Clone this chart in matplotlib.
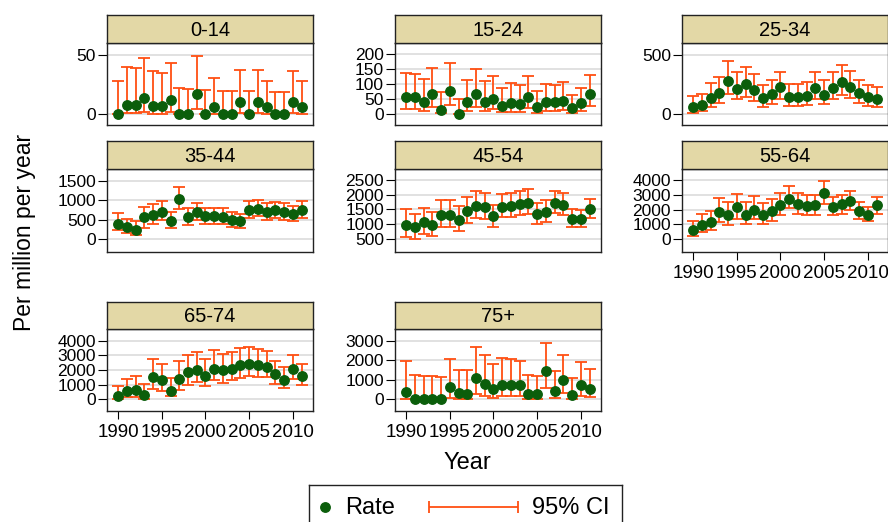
import numpy as np
import matplotlib
matplotlib.use("Agg")
import matplotlib.pyplot as plt

plt.rcParams['font.family'] = ['Liberation Sans', 'DejaVu Sans']

# datos por grupo de edad: tasa, limite inferior y superior del IC 95%
years = list(range(1990, 2012))
groups = ["0-14", "15-24", "25-34", "35-44", "45-54", "55-64", "65-74", "75+"]

rate_0_14 = [0, 7.6, 7.6, 13.3, 6.8, 6.8, 11.9, 0, 0, 16.7, 0, 5.6, 0, 0, 10.5, 0, 10.5, 5.6, 0, 0, 10.5, 5.6]
lo_0_14 = [0, 0.5, 0.5, 2, 0.4, 0.4, 1.5, 0, 0, 4, 0, 0.2, 0, 0, 1, 0, 1, 0.2, 0, 0, 1, 0.2]
hi_0_14 = [28, 40, 38.7, 47.7, 36, 34.5, 43.5, 21.7, 21, 49.2, 20.3, 30, 19.8, 19.5, 37.3, 19.5, 37, 28, 19, 19, 36.5, 28]

rate_15_24 = [55.6, 55.6, 41, 65.6, 13, 78, 0, 41, 65.6, 39, 50, 26.7, 38, 34, 55.6, 22, 40, 39, 44, 20, 35.6, 66.7]
lo_15_24 = [17, 17, 11, 22, 2, 30, 0, 11, 22, 10, 15, 5.6, 8, 8, 19, 3, 11, 10, 13, 2, 11, 28]
hi_15_24 = [138, 135, 117, 154, 74, 171, 49, 115, 150, 111, 127, 88, 102, 98, 126, 78, 101, 97, 107, 63, 88, 130]

rate_25_34 = [56, 73, 138, 181, 282, 212, 257, 206, 133, 169, 226, 141, 141, 153, 223, 164, 223, 274, 226, 175, 141, 127]
lo_25_34 = [11, 23, 56, 90, 167, 124, 147, 110, 62, 85, 127, 68, 68, 73, 124, 88, 124, 161, 133, 90, 68, 62]
hi_25_34 = [152, 170, 260, 316, 444, 359, 401, 339, 246, 288, 359, 254, 254, 268, 356, 285, 356, 415, 364, 288, 246, 226]

rate_35_44 = [394, 309, 223, 557, 626, 694, 471, 1037, 557, 694, 583, 583, 566, 490, 471, 754, 780, 694, 754, 694, 643, 754]
lo_35_44 = [223, 154, 111, 283, 394, 480, 283, 780, 369, 497, 386, 386, 386, 300, 283, 540, 583, 497, 540, 497, 470, 540]
hi_35_44 = [668, 523, 454, 840, 909, 986, 711, 1354, 814, 943, 814, 797, 797, 690, 651, 986, 1011, 926, 968, 926, 860, 986]

rate_45_54 = [983, 893, 1062, 961, 1309, 1298, 1152, 1433, 1635, 1590, 1264, 1590, 1624, 1680, 1736, 1354, 1410, 1736, 1657, 1174, 1174, 1511]
lo_45_54 = [567, 500, 669, 590, 904, 904, 781, 1039, 1208, 1174, 904, 1230, 1242, 1298, 1343, 1006, 1073, 1365, 1320, 893, 893, 1208]
hi_45_54 = [1522, 1354, 1556, 1422, 1826, 1826, 1635, 1927, 2129, 2073, 1657, 2039, 2073, 2118, 2197, 1736, 1815, 2129, 2051, 1522, 1489, 1871]

rate_55_64 = [591, 977, 1159, 1841, 1659, 2159, 1659, 2000, 1614, 1886, 2295, 2727, 2364, 2227, 2273, 3136, 2159, 2341, 2568, 1886, 1659, 2295]
lo_55_64 = [227, 455, 636, 1159, 977, 1386, 1023, 1341, 1023, 1250, 1659, 2068, 1705, 1614, 1659, 2386, 1614, 1705, 2000, 1386, 1205, 1727]
hi_55_64 = [1250, 1727, 1932, 2795, 2500, 3023, 2500, 2886, 2455, 2682, 3136, 3591, 3114, 2977, 2977, 3932, 2864, 2955, 3250, 2500, 2182, 2841]

rate_65_74 = [183, 526, 640, 297, 1509, 1280, 571, 1371, 1851, 2011, 1554, 2103, 1966, 2103, 2331, 2423, 2331, 2240, 1714, 1326, 2057, 1600]
lo_65_74 = [20, 137, 137, 0, 709, 571, 183, 640, 983, 1143, 869, 1280, 1097, 1280, 1440, 1554, 1486, 1486, 1029, 754, 1371, 983]
hi_65_74 = [869, 1371, 1600, 1051, 2766, 2423, 1440, 2651, 3040, 3257, 2743, 3383, 3086, 3257, 3543, 3611, 3451, 3314, 2651, 2194, 3040, 2423]

rate_75 = [360, 0, 0, 0, 0, 600, 309, 274, 1080, 771, 531, 737, 703, 703, 257, 257, 1423, 394, 994, 223, 737, 531]
lo_75 = [0, 0, 0, 0, 0, 51, 0, 0, 274, 171, 51, 137, 137, 137, 0, 0, 566, 51, 309, 0, 171, 103]
hi_75 = [1971, 1251, 1200, 1166, 1114, 2074, 1509, 1509, 2674, 2280, 1817, 2109, 2057, 1989, 1217, 1166, 2914, 1457, 2280, 1080, 1903, 1560]

rates = [rate_0_14, rate_15_24, rate_25_34, rate_35_44, rate_45_54, rate_55_64, rate_65_74, rate_75]
lows = [lo_0_14, lo_15_24, lo_25_34, lo_35_44, lo_45_54, lo_55_64, lo_65_74, lo_75]
highs = [hi_0_14, hi_15_24, hi_25_34, hi_35_44, hi_45_54, hi_55_64, hi_65_74, hi_75]

# ejes y de cada panel
yticks = [[0, 50], [0, 50, 100, 150, 200], [0, 500], [0, 500, 1000, 1500],
          [500, 1000, 1500, 2000, 2500], [0, 1000, 2000, 3000, 4000],
          [0, 1000, 2000, 3000, 4000], [0, 1000, 2000, 3000]]
ylims = [(-9.3, 60), (-37, 237), (-93, 600), (-334, 1808),
         (61, 2871), (-877, 4742), (-823, 4823), (-617, 3617)]

W, H = 888, 522
verde = "#0b5e0b"
naranja = "#ff4f12"
arena = "#e3d8a6"
gris = "#dcdcdc"

fig = plt.figure(figsize=(W / 100, H / 100), dpi=100)

col_left = [107, 395, 682]
pw = 206
# (strip top, plot top, plot bottom) en pixeles
rows = [(15, 43, 125), (141, 169, 252), (302, 329, 411)]
with_xlabels = {5, 6, 7}


def px(left, top, width, height):
    return [left / W, 1 - (top + height) / H, width / W, height / H]


for i, g in enumerate(groups):
    r, c = divmod(i, 3)
    st, pt, pb = rows[r]
    ax = fig.add_axes(px(col_left[c], pt, pw, pb - pt))
    rt = np.array(rates[i])
    lo = np.array(lows[i])
    hi = np.array(highs[i])
    ax.errorbar(years, rt, yerr=[rt - lo, hi - rt], fmt='none', ecolor=naranja,
                elinewidth=1.3, capsize=4, capthick=1.3, zorder=2)
    ax.plot(years, rt, 'o', color=verde, markersize=6.8, zorder=3)
    ax.set_xlim(1988.74, 2012.29)
    ax.set_ylim(*ylims[i])
    ax.set_yticks(yticks[i])
    ax.set_xticks([1990, 1995, 2000, 2005, 2010])
    ax.yaxis.grid(True, color=gris, linewidth=1.2)
    ax.set_axisbelow(True)
    ax.tick_params(axis='y', labelsize=12.5, length=6.5, width=0.8, pad=1.5)
    if i in with_xlabels:
        ax.tick_params(axis='x', labelsize=13.5, length=5.5, width=0.8, pad=4)
    else:
        ax.tick_params(axis='x', bottom=False, labelbottom=False)
    for s in ax.spines.values():
        s.set_linewidth(1.0)
        s.set_color("#222222")
    # franja con el nombre del grupo
    sax = fig.add_axes(px(col_left[c], st, pw, pt - st))
    sax.set_facecolor(arena)
    sax.set_xticks([])
    sax.set_yticks([])
    for s in sax.spines.values():
        s.set_linewidth(1.0)
        s.set_color("#222222")
    sax.text(0.5, 0.45, g, ha='center', va='center', fontsize=14.5, transform=sax.transAxes)

fig.text(25 / W, 1 - 232 / H, "Per million per year", rotation=90, ha='center', va='center', fontsize=16.5)
fig.text(467 / W, 1 - 463 / H, "Year", ha='center', va='center', fontsize=17)

# leyenda dibujada en un eje propio
lx0, lx1, ly0, ly1 = 309, 622, 485, 530
lax = fig.add_axes(px(lx0, ly0, lx1 - lx0, ly1 - ly0))
lax.set_xlim(lx0, lx1)
lax.set_ylim(ly1, ly0)
lax.set_xticks([])
lax.set_yticks([])
for s in lax.spines.values():
    s.set_linewidth(1.0)
    s.set_color("#222222")
lax.plot([325], [507], 'o', color=verde, markersize=6.8)
lax.text(345, 508, "Rate", ha='left', va='center', fontsize=17)
lax.errorbar([473.5], [507], xerr=[[44.5], [44.5]], fmt='none', ecolor=naranja,
             elinewidth=1.3, capsize=4, capthick=1.3)
lax.text(532, 508, "95% CI", ha='left', va='center', fontsize=17)

fig.savefig("out.png", dpi=100)
